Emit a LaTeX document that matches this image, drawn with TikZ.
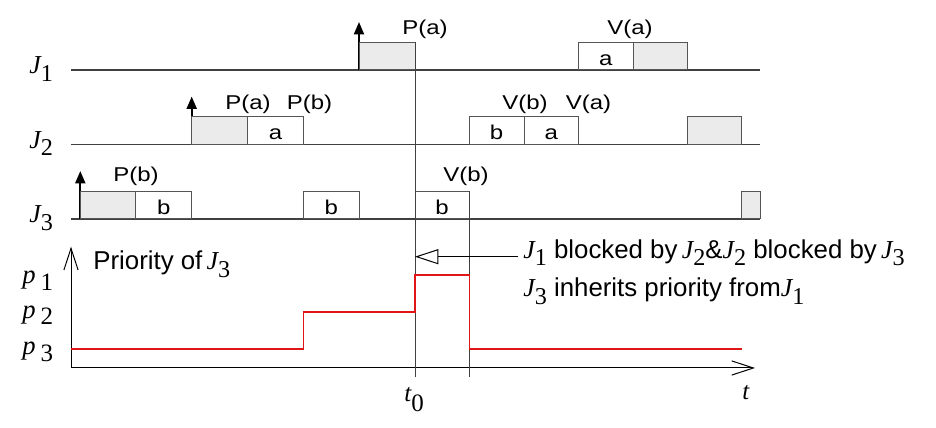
\documentclass[tikz,border=0pt]{standalone}
\usepackage{fontspec}
\setmainfont{Liberation Sans}
\newfontfamily\WideSans{Liberation Sans}[FakeStretch=1.2]
\newfontfamily\TimesFont{Liberation Serif}
\usetikzlibrary{arrows.meta}
\definecolor{boxgray}{HTML}{EBEBEB}
\definecolor{linegray}{HTML}{404040}
\definecolor{boxedge}{HTML}{555555}
\definecolor{prioRed}{HTML}{E01515}
\newcommand\JobName[1]{{\TimesFont\fontsize{15.5}{17}\selectfont\itshape J}\raisebox{-4.5pt}{\TimesFont\fontsize{14.5}{16}\selectfont #1}}
\newcommand\PrioName[1]{{\TimesFont\fontsize{16}{18}\selectfont\itshape p}\kern3pt\raisebox{-4pt}{\TimesFont\fontsize{15}{17}\selectfont #1}}
\newcommand\JobLine[3]{%
    \draw[timeline] (71,#2) -- (760,#2);
    \node[joblabel] (#1) at (29,#2-4) {\JobName{#3}};
}
\newcommand\Release[2]{%
    \draw[release] (#1,#2) -- (#1,#2+48);
}
\newcommand\GrayBox[3]{%
    \draw[taskbox,fill=boxgray] (#1,#3) rectangle (#2,#3+27.5);
}
\newcommand\LetterBox[5]{%
    \draw[taskbox] (#2,#4) rectangle (#3,#4+27.5);
    \node[semlabel] (#1) at ({(#2+#3)/2},#4+4.5) {#5};
}

\begin{document}
\begin{tikzpicture}[x=0.6pt,y=0.6pt,
    timeline/.style={line width=0.8pt,color=linegray},
    taskbox/.style={line width=0.6pt,draw=boxedge},
    release/.style={line width=1.3pt,-{Triangle[length=7.5pt,width=6pt]}},
    semlabel/.style={anchor=base,inner sep=0pt,font=\WideSans\fontsize{12}{14}\selectfont},
    joblabel/.style={anchor=base west,inner sep=0pt},
    textlabel/.style={anchor=base west,inner sep=0pt,font=\fontsize{15.5}{18}\selectfont},
    axis/.style={line width=0.6pt,-{Straight Barb[length=13pt,width=8.5pt]}},
    marker/.style={line width=0.6pt,color=linegray},
    prio/.style={line width=0.65pt,color=prioRed}]
    \useasboundingbox (0,0) rectangle (936,428);
    \JobLine{J1}{358}{1}
    \JobLine{J2}{283.5}{2}
    \JobLine{J3}{209}{3}
    % J1
    \Release{359}{358}
    \GrayBox{359}{415}{358}
    \LetterBox{a1}{578.7}{633}{358}{a}
    \GrayBox{633}{687.7}{358}
    \node[semlabel] (J1Pa) at (425,393) {P(a)};
    \node[semlabel] (J1Va) at (630,393) {V(a)};
    % J2
    \Release{191.7}{283.5}
    \GrayBox{191.7}{247.7}{283.5}
    \LetterBox{a2}{247.7}{303.3}{283.5}{a}
    \LetterBox{b2}{469.3}{524}{283.5}{b}
    \LetterBox{a3}{524}{578.7}{283.5}{a}
    \GrayBox{687.7}{741.7}{283.5}
    \node[semlabel] (J2Pa) at (248,318) {P(a)};
    \node[semlabel] (J2Pb) at (309.5,318) {P(b)};
    \node[semlabel] (J2Vb) at (525,318) {V(b)};
    \node[semlabel] (J2Va) at (588.5,318) {V(a)};
    % J3
    \Release{80.3}{209}
    \GrayBox{80.3}{135.7}{209}
    \LetterBox{b1}{135.7}{191.7}{209}{b}
    \LetterBox{b3}{303.3}{359.3}{209}{b}
    \LetterBox{b4}{415}{469.3}{209}{b}
    \GrayBox{741.7}{760}{209}
    \node[semlabel] (J3Pb) at (136,246) {P(b)};
    \node[semlabel] (J3Vb) at (466,246) {V(b)};
    % priority of J3
    \coordinate (Origin) at (71,60);
    \draw[axis] (Origin) -- (71,181.3);
    \draw[axis] (Origin) -- (755,60);
    \draw[marker] (415,386) -- (415,51.3);
    \draw[marker] (469.3,236.7) -- (469.3,51.3);
    \draw[prio] (71,79) -| (303.3,116) -| (415,153) -| (469.3,79) -- (741.7,79);
    \node[joblabel] (p1) at (22,144.3) {\PrioName{1}};
    \node[joblabel] (p2) at (22,109.7) {\PrioName{2}};
    \node[joblabel] (p3) at (22,73) {\PrioName{3}};
    \node[joblabel] (t0) at (404,26.3) {\TimesFont\fontsize{15}{17}\selectfont{\itshape t}\raisebox{-6pt}{0}};
    \node[joblabel] (tAxis) at (742,28) {\TimesFont\fontsize{15}{17}\selectfont\itshape t};
    \node[textlabel] (PrioTitle) at (93,158) {Priority of\,\JobName{3}};
    \coordinate (BlockFrom) at (518,171.3);
    \coordinate (BlockTo) at (415,171.3);
    \draw[line width=0.6pt,-{Triangle[open,length=14pt,width=9pt]}] (BlockFrom) -- (BlockTo);
    \node[textlabel] (Blocked) at (523,169.5) {\JobName{1} blocked by\,\JobName{2}\&\JobName{2} blocked by\,\JobName{3}};
    \node[textlabel] (Inherits) at (523,131.3) {\JobName{3} inherits priority from\JobName{1}};
\end{tikzpicture}
\end{document}
